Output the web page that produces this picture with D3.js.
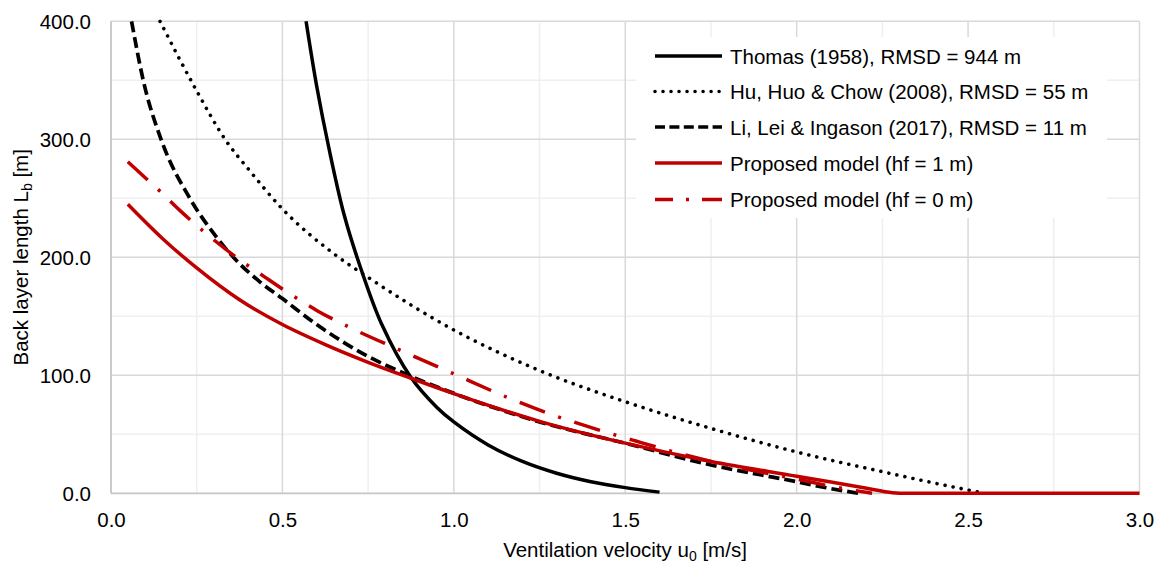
<!DOCTYPE html>
<html><head><meta charset="utf-8">
<script src="https://cdn.jsdelivr.net/npm/d3@7"></script>
<style>
html,body{margin:0;padding:0;background:#fff;}
svg{display:block;font-family:"Liberation Sans",Arial,sans-serif;}
</style></head>
<body><svg id="c" width="1160" height="562"></svg>
<script>
// ---- data ----
const xTicks = [0.0, 0.5, 1.0, 1.5, 2.0, 2.5, 3.0];
const yTicks = [0, 100, 200, 300, 400];
const xMinor = [0.25, 0.75, 1.25, 1.75, 2.25, 2.75];
const yMinor = [50, 150, 250, 350];

const thomasU = [0.569, 0.6, 0.636, 0.68, 0.727, 0.79, 0.873, 0.95, 1.0, 1.1, 1.2, 1.3, 1.4, 1.5, 1.6];
const thomasL = [400, 345, 292, 236, 192, 143, 99, 73, 60.5, 41, 27, 17, 9.8, 4.8, 1];

const huU = [0.143, 0.25, 0.335, 0.4, 0.5, 0.65, 0.75, 1.0, 1.25, 1.5, 1.75, 2.0, 2.25, 2.5, 2.55];
const huL = [400, 341, 299, 275, 241, 203, 183, 138.4, 104, 77.6, 55, 35, 18.3, 2.8, 0];

const liU = [0.06, 0.094, 0.146, 0.23, 0.3, 0.357, 0.435, 0.5, 0.6, 0.75, 0.873, 1.0, 1.25, 1.5, 1.75, 2.0, 2.07, 2.18];
const liL = [400, 350, 300, 250, 220, 200, 179, 165, 143, 116, 99.4, 84.7, 60.5, 42.4, 24, 9.8, 5.6, 0];

const p1U = [0.049, 0.15, 0.25, 0.375, 0.5, 0.625, 0.75, 0.875, 1.0, 1.25, 1.5, 1.75, 2.0, 2.2, 2.28, 2.32, 3.0];
const p1L = [245, 216, 191, 164, 143, 126, 111, 97.5, 84.5, 61, 42.5, 27, 14.5, 4.5, 0.5, 0, 0];

const p0U = [0.049, 0.109, 0.143, 0.2, 0.274, 0.375, 0.45, 0.522, 0.6, 0.715, 0.834, 0.994, 1.155, 1.281, 1.408, 1.531, 1.655, 1.75, 2.0, 2.1, 2.22];
const p0L = [281, 265, 256, 240, 221, 198, 183, 169, 155, 138, 122.5, 102, 81.4, 67.2, 55, 44.3, 34, 27, 12, 6, 0];

const seriesNames = ["Thomas (1958), RMSD = 944 m", "Hu, Huo & Chow (2008), RMSD = 55 m",
  "Li, Lei & Ingason (2017), RMSD = 11 m", "Proposed model (hf = 1 m)", "Proposed model (hf = 0 m)"];

// ---- chart ----
const svg = d3.select("#c");
const x = d3.scaleLinear().domain([0, 3]).range([111, 1139.5]);
const y = d3.scaleLinear().domain([0, 400]).range([493.3, 21.3]);

const styles = [
  {color:"#000", w:3.5, dash:null, cap:"butt", legDash:null},
  {color:"#000", w:3.6, dash:"0.01,8.2", cap:"round", legDash:"0.01,8"},
  {color:"#000", w:3.7, dash:"11,5", cap:"butt", legDash:"10,4.4"},
  {color:"#C00000", w:3.5, dash:null, cap:"butt", legDash:null},
  {color:"#C00000", w:3.5, dash:"27,14,3,14", cap:"butt", legDash:"27,13,3,13", legOff:9}
];
const data = [[thomasU, thomasL], [huU, huL], [liU, liL], [p1U, p1L], [p0U, p0L]];

// grid
const g = svg.append("g");
g.selectAll(".vmin").data(xMinor).join("line")
  .attr("x1", d => x(d)).attr("x2", d => x(d)).attr("y1", y(0)).attr("y2", y(400))
  .attr("stroke", "#efefef").attr("stroke-width", 1.5);
g.selectAll(".hmin").data(yMinor).join("line")
  .attr("x1", x(0)).attr("x2", x(3)).attr("y1", d => y(d)).attr("y2", d => y(d))
  .attr("stroke", "#efefef").attr("stroke-width", 1.5);
g.selectAll(".vmaj").data(xTicks.slice(1)).join("line")
  .attr("x1", d => x(d)).attr("x2", d => x(d)).attr("y1", y(0)).attr("y2", y(400))
  .attr("stroke", "#d9d9d9").attr("stroke-width", 1.5);
g.selectAll(".hmaj").data(yTicks.slice(1)).join("line")
  .attr("x1", x(0)).attr("x2", x(3)).attr("y1", d => y(d)).attr("y2", d => y(d))
  .attr("stroke", "#d9d9d9").attr("stroke-width", 1.5);

// axes
const fs = "20.5px";
const xa = svg.append("g").attr("transform", `translate(0,${y(0)})`)
  .call(d3.axisBottom(x).tickValues(xTicks).tickFormat(d3.format(".1f")).tickSize(0).tickPadding(19.5));
const ya = svg.append("g").attr("transform", `translate(${x(0)},0)`)
  .call(d3.axisLeft(y).tickValues(yTicks).tickFormat(d3.format(".1f")).tickSize(0).tickPadding(20));
[xa, ya].forEach(a => {
  a.select(".domain").attr("stroke", "#c6c6c6").attr("stroke-width", 1.8);
  a.selectAll("text").attr("font-size", fs).attr("fill", "#000").attr("font-family", "Liberation Sans, Arial, sans-serif");
});
ya.selectAll("text").attr("dy", "0.37em");
ya.select(".domain").attr("d", `M0,${y(0)}V${y(400)}`);
xa.select(".domain").attr("d", `M${x(0)},0H${x(3)}`);

// clip
svg.append("clipPath").attr("id", "pc").append("rect")
  .attr("x", x(0)).attr("y", y(400) - 2).attr("width", x(3) - x(0) + 6).attr("height", y(0) - y(400) + 6);

const lineM = d3.line().x(d => x(d[0])).y(d => y(d[1])).curve(d3.curveMonotoneX);
const lineC = d3.line().x(d => x(d[0])).y(d => y(d[1])).curve(d3.curveCatmullRom.alpha(0.5));
const pg = svg.append("g").attr("clip-path", "url(#pc)");
data.forEach((s, i) => {
  const pts = s[0].map((u, k) => [u, s[1][k]]);
  const st = styles[i];
  pg.append("path").attr("d", (i === 0 ? lineC : lineM)(pts)).attr("fill", "none")
    .attr("stroke", st.color).attr("stroke-width", st.w)
    .attr("stroke-linecap", st.cap).attr("stroke-linejoin", "round")
    .attr("stroke-dasharray", st.dash);
});

// legend
const lg = svg.append("g");
lg.append("rect").attr("x", 636).attr("y", 37).attr("width", 471).attr("height", 181).attr("fill", "#fff");
const rowsY = [56, 91.5, 127, 163, 199.5];
seriesNames.forEach((n, i) => {
  const st = styles[i];
  lg.append("line").attr("x1", 655).attr("x2", 722).attr("y1", rowsY[i]).attr("y2", rowsY[i])
    .attr("stroke", st.color).attr("stroke-width", st.w).attr("stroke-linecap", st.cap)
    .attr("stroke-dasharray", st.legDash).attr("stroke-dashoffset", st.legOff || 0);
  lg.append("text").attr("x", 730).attr("y", rowsY[i] + 7.5).attr("font-size", fs).attr("fill", "#000").text(n);
});

// axis titles
const xt = svg.append("text").attr("x", 625).attr("y", 557).attr("text-anchor", "middle").attr("font-size", fs).attr("fill", "#000");
xt.append("tspan").text("Ventilation velocity u");
xt.append("tspan").attr("font-size", "14px").attr("dy", 4).text("0");
xt.append("tspan").attr("dy", -4).text(" [m/s]");

const yt = svg.append("text").attr("transform", `translate(27.5,${(y(0) + y(400)) / 2}) rotate(-90)`)
  .attr("text-anchor", "middle").attr("font-size", fs).attr("fill", "#000");
yt.append("tspan").text("Back layer length L");
yt.append("tspan").attr("font-size", "14px").attr("dy", 4).text("b");
yt.append("tspan").attr("dy", -4).text(" [m]");
</script></body></html>
